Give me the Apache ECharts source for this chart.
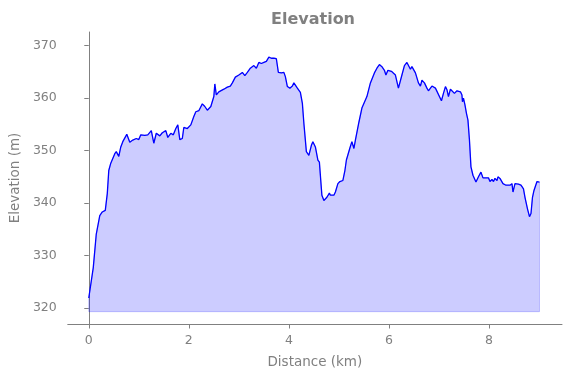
<!DOCTYPE html>
<html>
<head>
<meta charset="utf-8">
<script src="https://cdn.jsdelivr.net/npm/echarts@6/dist/echarts.min.js"></script>
<style>html,body{margin:0;padding:0;background:#fff}#c{width:571px;height:378px}</style>
</head>
<body>
<div id="c"></div>
<script>
// Distance (km)
const distanceKm = [0.00,0.03,0.09,0.15,0.22,0.27,0.33,0.37,0.40,0.44,0.47,0.52,0.55,0.60,0.64,0.68,0.76,0.82,0.88,0.95,1.00,1.04,1.12,1.18,1.25,1.30,1.35,1.42,1.47,1.54,1.58,1.64,1.69,1.74,1.78,1.82,1.87,1.90,1.97,2.04,2.10,2.14,2.20,2.27,2.32,2.37,2.44,2.50,2.52,2.55,2.60,2.63,2.70,2.77,2.83,2.87,2.93,3.00,3.07,3.12,3.17,3.23,3.30,3.35,3.40,3.45,3.50,3.55,3.60,3.65,3.70,3.75,3.79,3.85,3.90,3.93,3.97,4.02,4.07,4.10,4.17,4.23,4.27,4.30,4.35,4.40,4.45,4.48,4.53,4.58,4.61,4.66,4.70,4.76,4.81,4.83,4.90,4.93,4.98,5.02,5.08,5.12,5.15,5.18,5.22,5.26,5.30,5.33,5.40,5.46,5.56,5.63,5.71,5.76,5.81,5.86,5.91,5.94,5.98,6.05,6.13,6.19,6.26,6.31,6.36,6.39,6.43,6.46,6.53,6.59,6.63,6.66,6.71,6.76,6.79,6.86,6.93,7.05,7.09,7.13,7.16,7.19,7.23,7.26,7.31,7.36,7.43,7.46,7.47,7.49,7.52,7.55,7.58,7.61,7.64,7.68,7.74,7.79,7.84,7.88,7.94,7.99,8.02,8.06,8.09,8.12,8.16,8.18,8.22,8.28,8.34,8.42,8.46,8.48,8.52,8.59,8.64,8.69,8.72,8.77,8.81,8.84,8.87,8.90,8.96,9.01];
// Elevation (m)
const elevationM = [321.9,321.7,327.7,334.1,337.6,338.3,338.6,341.8,346.2,347.6,347.8,349.4,349.8,348.9,350.7,351.7,353.1,351.6,352.0,352.3,352.1,353.0,352.9,353.0,353.8,351.4,353.3,352.8,353.4,353.8,352.5,353.3,353.0,354.2,354.9,352.1,352.3,354.4,354.2,354.9,356.5,357.4,357.6,358.9,358.4,357.7,358.4,360.3,362.7,360.6,361.2,360.9,361.7,362.1,362.3,362.9,364.0,364.4,364.9,364.3,364.9,365.7,366.2,365.7,366.8,366.6,366.8,367.0,367.8,367.6,367.6,367.5,364.9,364.8,364.9,364.1,362.2,361.9,362.3,362.9,361.9,361.1,359.0,355.2,349.8,349.1,351.0,351.7,350.7,348.2,347.8,341.5,340.5,341.1,341.9,341.5,341.5,342.1,343.7,344.1,344.3,346.2,348.2,348.5,350.5,351.7,350.4,352.0,355.4,358.1,360.3,362.9,364.8,365.7,366.4,366.0,365.3,364.4,365.3,365.1,364.4,361.9,364.4,366.2,366.8,366.6,365.5,366.0,364.8,362.9,362.3,363.4,362.9,361.9,361.4,362.3,361.9,359.5,360.9,362.2,361.6,360.3,361.7,361.6,360.9,361.4,361.2,360.6,359.3,360.0,358.7,357.1,355.8,352.0,346.9,345.3,344.0,345.0,345.9,344.8,344.8,344.8,344.1,344.5,344.1,344.7,344.3,345.0,344.7,343.7,343.4,343.4,343.7,342.1,343.7,343.6,343.4,342.7,341.1,338.9,337.4,338.0,341.1,342.4,344.1,344.0];
const fillBase = 319.3;
const xTicks = [0, 2, 4, 6, 8];
const yTicks = [320, 330, 340, 350, 360, 370];

const profile = distanceKm.map((d, i) => [d, elevationM[i]]);
const last = distanceKm.length - 1;
const outline = profile.concat([[distanceKm[last], fillBase], [distanceKm[0], fillBase], [distanceKm[0], elevationM[0]]]);

const gray = '#808080';
const font = 'DejaVu Sans';
const chart = echarts.init(document.getElementById('c'), null, {renderer: 'canvas'});
chart.setOption({
  animation: false,
  title: {
    text: 'Elevation', left: 266, top: 7,
    textStyle: {color: gray, fontFamily: font, fontWeight: 'bold', fontSize: 16}
  },
  grid: {left: 66, right: 9, top: 32, bottom: 54, containLabel: false},
  xAxis: {
    type: 'value', min: -0.42, max: 9.46,
    name: 'Distance (km)', nameLocation: 'middle', nameGap: 31,
    nameTextStyle: {color: gray, fontFamily: font, fontSize: 13.5},
    axisLine: {show: true, lineStyle: {color: gray, width: 1}},
    axisTick: {show: true, length: 4.5, customValues: xTicks, lineStyle: {color: gray}},
    axisLabel: {customValues: xTicks, color: gray, fontFamily: font, fontSize: 12.5, margin: 10},
    splitLine: {show: false}
  },
  yAxis: {
    type: 'value', min: 316.95, max: 372.6,
    name: 'Elevation (m)', nameLocation: 'middle', nameGap: 45, nameRotate: 90,
    nameTextStyle: {color: gray, fontFamily: font, fontSize: 13.5},
    axisLine: {show: true, lineStyle: {color: gray, width: 1}},
    axisTick: {show: true, length: 4.5, customValues: yTicks, lineStyle: {color: gray}},
    axisLabel: {customValues: yTicks, color: gray, fontFamily: font, fontSize: 12.5, margin: 11},
    splitLine: {show: false}
  },
  series: [
    {
      type: 'line', data: profile, symbol: 'none', silent: true,
      lineStyle: {width: 0, opacity: 0},
      areaStyle: {color: 'rgba(0,0,255,0.2)', origin: fillBase, opacity: 1},
      z: 1
    },
    {
      type: 'line', data: outline, symbol: 'none', silent: true,
      lineStyle: {color: 'rgba(0,0,255,0.2)', width: 1},
      z: 2
    },
    {
      type: 'line', data: profile, symbol: 'none', silent: true,
      lineStyle: {color: '#0000ff', width: 1.3},
      z: 3
    }
  ]
});
</script>
</body>
</html>
